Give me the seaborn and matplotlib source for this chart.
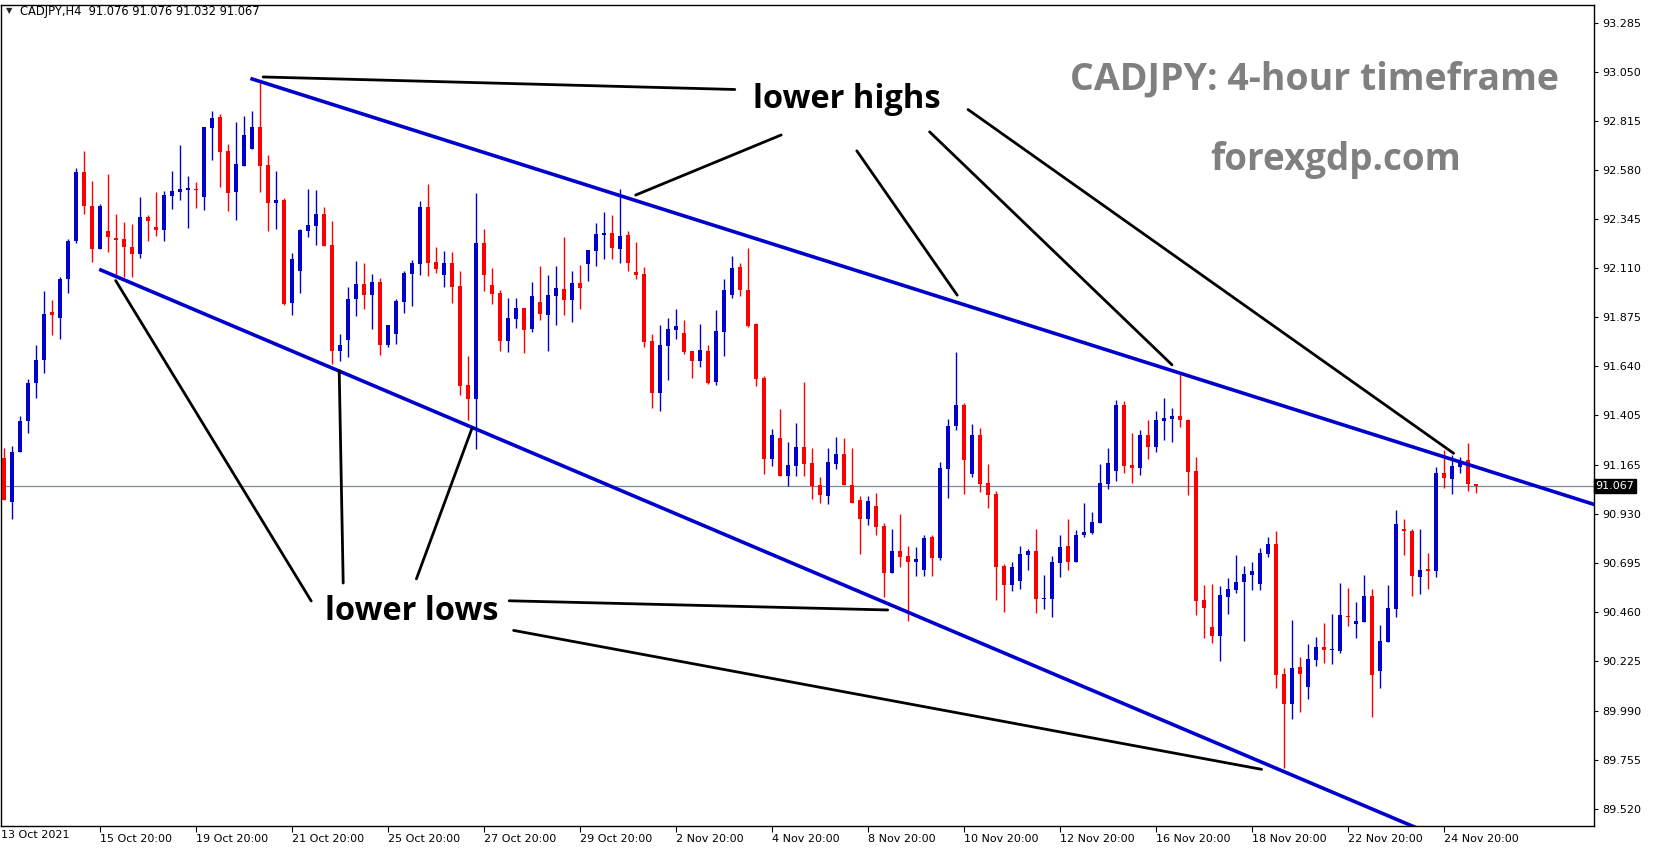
import matplotlib
matplotlib.use("Agg")
import matplotlib.pyplot as plt
import matplotlib.transforms as mtransforms
import seaborn as sns
import numpy as np
import pandas as pd

# CADJPY H4 candles (open, high, low, close)
opens = [91.20, 90.99, 91.23, 91.38, 91.56, 91.67, 91.90, 91.87, 92.06, 92.24,
         92.57, 92.41, 92.20, 92.29, 92.253, 92.25, 92.21, 92.18, 92.355, 92.307,
         92.295, 92.458, 92.474, 92.487, 92.49, 92.453, 92.784, 92.835, 92.672, 92.477,
         92.602, 92.682, 92.787, 92.605, 92.424, 92.437, 91.944, 92.098, 92.29, 92.314,
         92.368, 92.22, 91.714, 91.767, 91.962, 92.034, 91.982, 92.044, 91.741, 91.794,
         91.949, 92.084, 92.132, 92.403, 92.14, 92.077, 92.135, 92.024, 91.549, 91.483,
         92.231, 92.029, 91.991, 91.76, 91.866, 91.919, 91.818, 91.947, 91.886, 91.978,
         92.01, 91.959, 92.039, 92.13, 92.194, 92.271, 92.279, 92.203, 92.269, 92.091,
         92.082, 91.76, 91.512, 91.738, 91.815, 91.799, 91.712, 91.666, 91.712, 91.565,
         91.805, 91.981, 92.115, 92.005, 91.843, 91.583, 91.195, 91.296, 91.114, 91.162,
         91.253, 91.175, 91.07, 91.019, 91.172, 91.219, 91.07, 90.998, 90.908, 90.969,
         90.873, 90.649, 90.753, 90.729, 90.702, 90.664, 90.82, 90.721, 91.148, 91.353,
         91.454, 91.124, 91.31, 91.08, 91.028, 90.683, 90.592, 90.611, 90.735, 90.755,
         90.524, 90.524, 90.697, 90.779, 90.702, 90.832, 90.841, 90.889, 91.076, 91.139,
         91.454, 91.166, 91.153, 91.31, 91.254, 91.379, 91.389, 91.401, 91.382, 91.139,
         90.52, 90.39, 90.347, 90.534, 90.568, 90.606, 90.64, 90.596, 90.74, 90.788,
         90.164, 90.02, 90.198, 90.102, 90.232, 90.294, 90.28, 90.275, 90.443, 90.404,
         90.415, 90.538, 90.18, 90.319, 90.477, 90.86, 90.85, 90.631, 90.668, 90.66,
         91.129, 91.101, 91.157, 91.191, 91.076]
highs = [91.25, 91.26, 91.40, 91.58, 91.74, 92.00, 91.96, 92.07, 92.25, 92.59,
         92.67, 92.53, 92.42, 92.56, 92.37, 92.33, 92.32, 92.45, 92.365, 92.474,
         92.48, 92.576, 92.70, 92.552, 92.523, 92.787, 92.866, 92.85, 92.706, 92.811,
         92.84, 92.864, 93.013, 92.653, 92.576, 92.445, 92.181, 92.298, 92.49, 92.485,
         92.403, 92.336, 91.794, 92.021, 92.145, 92.133, 92.082, 92.061, 91.837, 91.965,
         92.098, 92.149, 92.432, 92.514, 92.212, 92.193, 92.188, 92.097, 91.688, 92.472,
         92.298, 92.111, 92.005, 91.967, 91.967, 91.919, 92.043, 92.12, 92.077, 92.12,
         92.259, 92.096, 92.125, 92.197, 92.327, 92.379, 92.365, 92.49, 92.288, 92.235,
         92.115, 91.794, 91.837, 91.871, 91.914, 91.861, 91.712, 91.842, 91.741, 91.909,
         92.058, 92.168, 92.135, 92.207, 91.848, 91.592, 91.338, 91.435, 91.275, 91.367,
         91.565, 91.247, 91.108, 91.248, 91.30, 91.296, 91.248, 91.017, 91.017, 91.032,
         90.888, 90.859, 90.931, 90.777, 90.772, 90.83, 90.83, 91.18, 91.387, 91.708,
         91.464, 91.363, 91.344, 91.171, 91.043, 90.692, 90.702, 90.779, 90.764, 90.859,
         90.64, 90.731, 90.832, 90.908, 90.856, 90.985, 90.94, 91.171, 91.248, 91.478,
         91.473, 91.32, 91.334, 91.382, 91.425, 91.488, 91.44, 91.603, 91.387, 91.206,
         90.592, 90.596, 90.587, 90.625, 90.736, 90.683, 90.702, 90.769, 90.822, 90.851,
         90.193, 90.424, 90.246, 90.308, 90.342, 90.409, 90.452, 90.601, 90.577, 90.51,
         90.639, 90.572, 90.399, 90.591, 90.951, 90.908, 90.86, 90.86, 90.745, 91.157,
         91.239, 91.215, 91.205, 91.273, 91.076]
lows = [91.00, 90.91, 91.23, 91.32, 91.49, 91.61, 91.79, 91.77, 91.99, 92.23,
        92.37, 92.14, 92.20, 92.19, 92.07, 92.07, 92.07, 92.16, 92.24, 92.266,
        92.24, 92.394, 92.437, 92.304, 92.40, 92.389, 92.629, 92.50, 92.384, 92.341,
        92.602, 92.682, 92.477, 92.29, 92.298, 91.933, 91.888, 91.992, 92.261, 92.223,
        92.218, 91.65, 91.667, 91.685, 91.883, 91.915, 91.819, 91.693, 91.733, 91.746,
        91.896, 91.93, 92.077, 92.074, 92.085, 92.021, 91.944, 91.501, 91.381, 91.242,
        92.002, 91.938, 91.712, 91.709, 91.826, 91.704, 91.805, 91.862, 91.714, 91.837,
        91.885, 91.851, 91.914, 92.05, 92.12, 92.154, 92.154, 92.135, 92.096, 92.058,
        91.733, 91.44, 91.426, 91.575, 91.77, 91.698, 91.584, 91.637, 91.555, 91.551,
        91.69, 91.968, 91.978, 91.829, 91.546, 91.123, 91.162, 91.114, 91.066, 91.114,
        91.114, 91.003, 90.984, 90.981, 91.148, 91.07, 90.984, 90.74, 90.88, 90.832,
        90.534, 90.649, 90.678, 90.419, 90.635, 90.635, 90.635, 90.712, 91.009, 91.336,
        91.028, 91.11, 91.038, 90.961, 90.52, 90.462, 90.563, 90.572, 90.664, 90.457,
        90.476, 90.438, 90.63, 90.664, 90.702, 90.822, 90.836, 90.889, 91.052, 91.091,
        91.129, 91.081, 91.12, 91.196, 91.23, 91.288, 91.278, 91.348, 91.024, 90.448,
        90.337, 90.313, 90.227, 90.452, 90.553, 90.323, 90.568, 90.568, 90.726, 90.097,
        89.713, 89.948, 89.982, 90.044, 90.203, 90.217, 90.212, 90.265, 90.395, 90.337,
        90.415, 89.96, 90.10, 90.319, 90.439, 90.737, 90.54, 90.549, 90.573, 90.631,
        91.058, 91.029, 91.129, 91.044, 91.032]
closes = [91.00, 91.23, 91.38, 91.56, 91.67, 91.89, 91.885, 92.06, 92.24, 92.57,
          92.41, 92.20, 92.41, 92.26, 92.247, 92.21, 92.18, 92.355, 92.336, 92.295,
          92.46, 92.48, 92.49, 92.495, 92.483, 92.787, 92.831, 92.669, 92.472, 92.61,
          92.749, 92.787, 92.602, 92.424, 92.437, 91.938, 92.154, 92.293, 92.315, 92.368,
          92.218, 91.714, 91.744, 91.965, 92.034, 91.982, 92.044, 91.741, 91.837, 91.952,
          92.087, 92.135, 92.403, 92.133, 92.106, 92.135, 92.021, 91.546, 91.483, 92.231,
          92.077, 91.986, 91.76, 91.871, 91.919, 91.815, 91.976, 91.891, 91.981, 92.015,
          91.959, 92.039, 92.015, 92.197, 92.274, 92.279, 92.207, 92.264, 92.135, 92.079,
          91.755, 91.512, 91.741, 91.818, 91.832, 91.707, 91.666, 91.717, 91.56, 91.808,
          92.005, 92.111, 92.007, 91.834, 91.579, 91.195, 91.309, 91.114, 91.165, 91.253,
          91.171, 91.066, 91.022, 91.18, 91.219, 91.07, 90.987, 90.908, 90.993, 90.87,
          90.649, 90.753, 90.726, 90.702, 90.715, 90.816, 90.721, 91.152, 91.353, 91.454,
          91.192, 91.31, 91.076, 91.024, 90.678, 90.592, 90.678, 90.74, 90.755, 90.524,
          90.529, 90.702, 90.774, 90.702, 90.832, 90.846, 90.892, 91.08, 91.176, 91.454,
          91.163, 91.153, 91.31, 91.254, 91.382, 91.392, 91.401, 91.382, 91.134, 90.515,
          90.481, 90.347, 90.544, 90.572, 90.606, 90.644, 90.659, 90.745, 90.788, 90.16,
          90.02, 90.193, 90.164, 90.236, 90.294, 90.28, 90.284, 90.448, 90.438, 90.417,
          90.538, 90.16, 90.322, 90.481, 90.884, 90.852, 90.636, 90.663, 90.66, 91.129,
          91.106, 91.162, 91.186, 91.077, 91.067]

# time axis labels (one every 12 bars)
date_labels = ["15 Oct 20:00", "19 Oct 20:00", "21 Oct 20:00", "25 Oct 20:00",
               "27 Oct 20:00", "29 Oct 20:00", "2 Nov 20:00", "4 Nov 20:00",
               "8 Nov 20:00", "10 Nov 20:00", "12 Nov 20:00", "16 Nov 20:00",
               "18 Nov 20:00", "22 Nov 20:00", "24 Nov 20:00"]
price_ticks = [89.520, 89.755, 89.990, 90.225, 90.460, 90.695, 90.930, 91.165,
               91.405, 91.640, 91.875, 92.110, 92.345, 92.580, 92.815, 93.050, 93.285]
last_price = 91.067

# channel lines (bar index, price)
upper_channel = [(30.8, 93.02), (199.0, 90.975)]
lower_channel = [(11.9, 92.105), (175.8, 89.44)]

# pointer lines to the labels (bar index, price)
highs_pointers = [[(32.4, 93.027), (91.35, 92.967)],
                  [(78.96, 92.461), (97.15, 92.749)],
                  [(106.6, 92.673), (119.15, 91.981)],
                  [(115.7, 92.764), (146.0, 91.647)],
                  [(120.5, 92.871), (181.2, 91.223)]]
lows_pointers = [[(13.96, 92.051), (38.4, 90.515)],
                 [(41.9, 91.619), (42.4, 90.601)],
                 [(58.5, 91.343), (51.55, 90.621)],
                 [(63.15, 90.516), (110.46, 90.472)],
                 [(63.7, 90.374), (157.2, 89.708)]]

df = pd.DataFrame({"open": opens, "high": highs, "low": lows, "close": closes})
df["idx"] = np.arange(len(df))
df["up"] = df["close"] >= df["open"]

sns.set_style("white")
plt.rcParams["font.family"] = ["DejaVu Sans"]

BLUE = "#0000CC"
RED = "#FF0000"
LABEL_FONT = ["Open Sans", "DejaVu Sans"]

fig = plt.figure(figsize=(16.53, 8.5), dpi=100)
ax = fig.add_axes([1 / 1653, 24 / 850, 1593 / 1653, 821 / 850])

# candles
colors = np.where(df["up"], BLUE, RED)
ax.vlines(df["idx"], df["low"], df["high"], colors=colors, linewidth=1.0, zorder=2)
body_bottom = np.minimum(df["open"], df["close"])
body_height = np.maximum((df["close"] - df["open"]).abs(), 0.005)
ax.bar(df["idx"], body_height, bottom=body_bottom, width=0.62, color=colors,
       linewidth=0, zorder=3)

# last price line
ax.axhline(last_price, color="#7d8a99", linewidth=0.9, zorder=1)

# channel lines
x_end = 205
for (x0, y0), (x1, y1) in [upper_channel, lower_channel]:
    slope = (y1 - y0) / (x1 - x0)
    ax.plot([x0, x_end], [y0, y0 + slope * (x_end - x0)], color="#0000CD",
            linewidth=2.6, solid_capstyle="butt", zorder=4)

for seg in highs_pointers + lows_pointers:
    ax.plot([seg[0][0], seg[1][0]], [seg[0][1], seg[1][1]], color="black",
            linewidth=2.0, zorder=4)

ax.text(105.4, 92.917, "lower highs", ha="center", va="center", fontsize=23.5,
        fontweight="bold", family=LABEL_FONT, color="black", zorder=5)
ax.text(51, 90.467, "lower lows", ha="center", va="center", fontsize=23.5,
        fontweight="bold", family=LABEL_FONT, color="black", zorder=5)
ax.text(163.8, 93.017, "CADJPY: 4-hour timeframe", ha="center", va="center",
        fontsize=27, fontweight="bold", family=LABEL_FONT, color="#808080", zorder=5)
ax.text(166.5, 92.629, "forexgdp.com", ha="center", va="center", fontsize=26.5,
        fontweight="bold", family=LABEL_FONT, color="#808080", zorder=5)

# axes
ax.set_xlim(-0.375, 198.75)
ax.set_ylim(89.4364, 93.372)
for sp in ax.spines.values():
    sp.set_color("black")
    sp.set_linewidth(1.0)
    sp.set_visible(True)

ax.yaxis.tick_right()
ax.set_yticks(price_ticks)
ax.set_yticklabels([f"{v:.3f}" for v in price_ticks])
ax.tick_params(axis="y", direction="out", length=3, width=0.8, pad=3,
               labelsize=8, colors="black", right=True, left=False)

ax.set_xticks(np.arange(12, 181, 12))
ax.set_xticklabels(date_labels)
ax.tick_params(axis="x", direction="out", length=4, width=0.8, pad=2,
               labelsize=8, colors="black", bottom=True)
for lbl in ax.get_xticklabels():
    lbl.set_horizontalalignment("left")

trans = mtransforms.blended_transform_factory(ax.transAxes, ax.transData)
ax.text(0, -0.005, "13 Oct 2021", transform=ax.transAxes, ha="left", va="top",
        fontsize=8, color="black")
ax.text(1.001, last_price, f"{last_price:.3f}", transform=trans, ha="left", va="center",
        fontsize=8, color="white", zorder=6,
        bbox=dict(boxstyle="square,pad=0.15", facecolor="black", edgecolor="black"),
        clip_on=False)

# header
fig.text(6 / 1653, 1 - 11 / 850, "\u25bc", fontsize=6, va="center", ha="left")
fig.text(20 / 1653, 1 - 11 / 850, "CADJPY,H4  91.076 91.076 91.032 91.067",
         fontsize=8.3, va="center", ha="left", color="black")

fig.savefig("out.png", dpi=100)
